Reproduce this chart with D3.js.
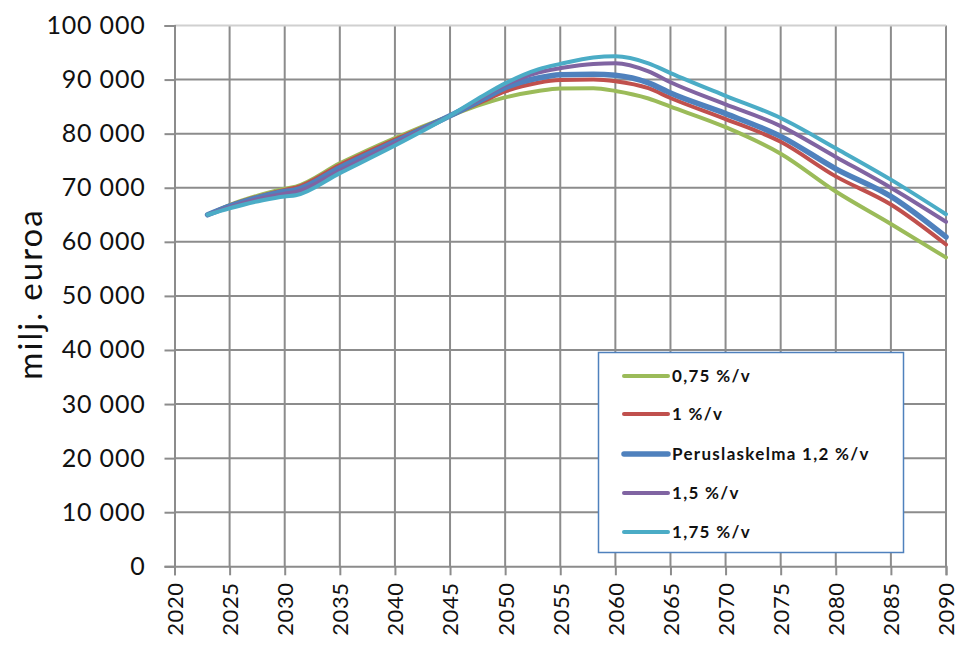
<!DOCTYPE html>
<html>
<head>
<meta charset="utf-8">
<script src="https://cdn.jsdelivr.net/npm/d3@7"></script>
<style>
  html, body { margin: 0; padding: 0; background: #fff; }
  svg { display: block; }
  text { font-family: Lato, "Open Sans", sans-serif; }
</style>
</head>
<body>
<svg id="chart" width="959" height="646"></svg>
<script>
// Projection years
const years = [2023, 2025, 2028, 2030, 2031, 2035, 2040, 2045, 2048, 2050, 2053, 2055, 2058, 2060, 2063, 2065, 2070, 2075, 2080, 2085, 2090];

// Scenario values, milj. euroa
const g075  = [65000, 66800, 68800, 69800, 70200, 74500, 79200, 83300, 85500, 86700, 87900, 88350, 88400, 87900, 86500, 85000, 81200, 76300, 69300, 63300, 57100];
const g100  = [65000, 66700, 68600, 69600, 70000, 74200, 78900, 83300, 86000, 87800, 89400, 89900, 90000, 89700, 88400, 86600, 82700, 78500, 72100, 66900, 59500];
const g120  = [65000, 66600, 68400, 69300, 69600, 73700, 78500, 83300, 86400, 88500, 90300, 90900, 91000, 90800, 89400, 87500, 83700, 79500, 73500, 68400, 60900];
const g150  = [65000, 66400, 68100, 68900, 69200, 73200, 78200, 83300, 86800, 89000, 91300, 92100, 92900, 93000, 91500, 89500, 85400, 81400, 75700, 70000, 63700];
const g175  = [65000, 66200, 67700, 68400, 68600, 72700, 77800, 83300, 87000, 89300, 91900, 92900, 94100, 94300, 93000, 91200, 87000, 82900, 77300, 71500, 65100];

const seriesNames = ["0,75 %/v", "1 %/v", "Peruslaskelma 1,2 %/v", "1,5 %/v", "1,75 %/v"];
const seriesColors = ["#9bbb59", "#c0504d", "#4f81bd", "#8064a2", "#4bacc6"];
const seriesWidths = [4, 4, 5.5, 4, 4];
const seriesValues = [g075, g100, g120, g150, g175];

const xTicks = d3.range(2020, 2091, 5);
const yTicks = d3.range(0, 100001, 10000);
const yTitle = "milj. euroa";

const svg = d3.select("#chart");
const margin = { left: 174.5, right: 13, top: 25.5, bottom: 80 };
const W = 959;

const x = d3.scaleLinear().domain([2020, 2090]).range([margin.left, W - margin.right]);
const y = d3.scaleLinear().domain([0, 100000]).range([566.3, margin.top]);

const fmt = v => d3.format(",")(v).replace(/,/g, " ");

// Gridlines
const grid = svg.append("g");
grid.selectAll("line.v").data(xTicks.slice(1)).join("line")
  .attr("x1", d => x(d)).attr("x2", d => x(d))
  .attr("y1", y(100000)).attr("y2", y(0))
  .attr("stroke", "#8c8c8c").attr("stroke-width", 2);
grid.selectAll("line.h").data(yTicks.slice(1)).join("line")
  .attr("x1", x(2020)).attr("x2", x(2090))
  .attr("y1", d => y(d)).attr("y2", d => y(d))
  .attr("stroke", d => d === 100000 ? "#d0d0d0" : "#8c8c8c").attr("stroke-width", 2);

// Y axis
const yAxis = svg.append("g")
  .attr("transform", `translate(${x(2020)},0)`)
  .call(d3.axisLeft(y).tickValues(yTicks).tickFormat(fmt).tickSize(10).tickPadding(19));
yAxis.select(".domain").attr("stroke", "#8c8c8c").attr("stroke-width", 2);
yAxis.selectAll(".tick line").attr("stroke", "#8c8c8c").attr("stroke-width", 2);
yAxis.selectAll(".tick text").attr("font-size", 25).attr("fill", "#111")
  .attr("letter-spacing", 0.8)
  .attr("font-family", "Lato, sans-serif");

// X axis
const xAxis = svg.append("g")
  .attr("transform", `translate(0,${y(0)})`)
  .call(d3.axisBottom(x).tickValues(xTicks).tickFormat(d3.format("d")).tickSize(9));
xAxis.select(".domain").attr("stroke", "#8c8c8c").attr("stroke-width", 2);
xAxis.selectAll(".tick line").attr("stroke", "#8c8c8c").attr("stroke-width", 2);
xAxis.selectAll(".tick text")
  .attr("font-size", 22).attr("fill", "#111")
  .attr("font-family", "Lato, sans-serif")
  .attr("letter-spacing", 0.6)
  .attr("transform", "rotate(-90)")
  .attr("text-anchor", "end")
  .attr("x", -16).attr("y", 0).attr("dy", "0.36em");

// Axis title
svg.append("text")
  .attr("transform", `translate(42,294) rotate(-90)`)
  .attr("text-anchor", "middle")
  .attr("font-size", 33)
  .attr("letter-spacing", 2)
  .attr("fill", "#111")
  .text(yTitle);

// Lines
const line = d3.line()
  .x((d, i) => x(years[i]))
  .y(d => y(d))
  .curve(d3.curveMonotoneX);

svg.append("g").selectAll("path").data(seriesValues).join("path")
  .attr("d", d => line(d))
  .attr("fill", "none")
  .attr("stroke", (d, i) => seriesColors[i])
  .attr("stroke-width", (d, i) => seriesWidths[i])
  .attr("stroke-linejoin", "round")
  .attr("stroke-linecap", "round");

// Legend
const lg = svg.append("g");
lg.append("rect")
  .attr("x", 598.5).attr("y", 352.5).attr("width", 305).attr("height", 200)
  .attr("fill", "#fff").attr("stroke", "#4f81bd").attr("stroke-width", 1.5);
const rowsY = [376, 414, 454, 493, 532];
const items = lg.selectAll("g.item").data(seriesNames).join("g")
  .attr("transform", (d, i) => `translate(0,${rowsY[i]})`);
items.append("line")
  .attr("x1", 624).attr("x2", 668).attr("y1", 0).attr("y2", 0)
  .attr("stroke", (d, i) => seriesColors[i])
  .attr("stroke-width", (d, i) => seriesWidths[i])
  .attr("stroke-linecap", "round");
items.append("text")
  .attr("x", 672).attr("y", 0).attr("dy", "0.36em")
  .attr("font-size", 17).attr("font-weight", "bold").attr("fill", "#111")
  .attr("letter-spacing", 1.3)
  .text(d => d);
</script>
</body>
</html>
